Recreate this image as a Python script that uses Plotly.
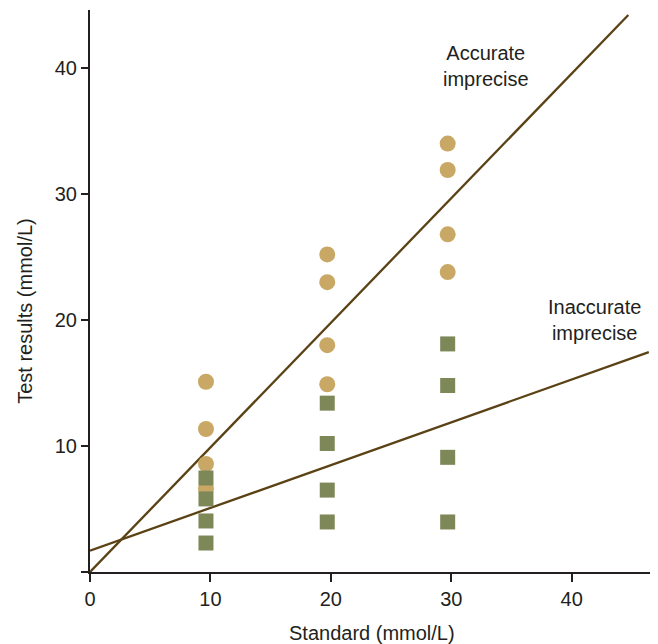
import plotly.graph_objects as go

# Data
circle_x = [9.63, 9.63, 9.63, 9.63, 19.7, 19.7, 19.7, 19.7, 29.7, 29.7, 29.7, 29.7]
circle_y = [15.1, 11.35, 8.57, 6.6, 25.2, 23.0, 18.0, 14.9, 34.0, 31.9, 26.8, 23.8]
square_x = [9.63, 9.63, 9.63, 9.63, 19.7, 19.7, 19.7, 19.7, 29.7, 29.7, 29.7, 29.7]
square_y = [7.46, 5.8, 4.05, 2.3, 13.4, 10.2, 6.5, 3.97, 18.1, 14.8, 9.1, 3.97]
accurate_x = [0, 44.7]
accurate_y = [0, 44.2]
inaccurate_x = [0, 46.4]
inaccurate_y = [1.69, 17.45]
x_ticks = [0, 10, 20, 30, 40]
y_ticks = [0, 10, 20, 30, 40]
y_ticklabels = ["", "10", "20", "30", "40"]

LINE = "#5A4215"
AX = "#231F20"
FONT = "Liberation Sans, Arial, Helvetica, sans-serif"

fig = go.Figure()
fig.add_trace(go.Scatter(x=accurate_x, y=accurate_y, mode="lines",
                         line=dict(color=LINE, width=2.3), hoverinfo="skip"))
fig.add_trace(go.Scatter(x=inaccurate_x, y=inaccurate_y, mode="lines",
                         line=dict(color=LINE, width=2.3), hoverinfo="skip"))
fig.add_trace(go.Scatter(x=circle_x, y=circle_y, mode="markers",
                         marker=dict(symbol="circle", size=16, color="#C8A864", line=dict(width=0))))
fig.add_trace(go.Scatter(x=square_x, y=square_y, mode="markers",
                         marker=dict(symbol="square", size=15, color="#7D8758", line=dict(width=0))))

fig.add_annotation(x=32.9, y=40.12, text="Accurate<br>imprecise", showarrow=False,
                   font=dict(size=20, color=AX, family=FONT), align="center")
fig.add_annotation(x=41.9, y=20.02, text="Inaccurate<br>imprecise", showarrow=False,
                   font=dict(size=20, color=AX, family=FONT), align="center")

# Axis titles
fig.add_annotation(x=0.504, y=-0.108, xref="paper", yref="paper", text="Standard (mmol/L)",
                   showarrow=False, yanchor="middle",
                   font=dict(size=20, color=AX, family=FONT))
fig.add_annotation(x=-0.115, y=0.464, xref="paper", yref="paper", text="Test results (mmol/L)",
                   showarrow=False, textangle=-90, xanchor="center", yanchor="middle",
                   font=dict(size=20, color=AX, family=FONT))

fig.update_layout(
    width=658, height=644,
    margin=dict(l=90, r=8, t=10, b=72),
    paper_bgcolor="white", plot_bgcolor="white",
    showlegend=False,
    font=dict(family=FONT, size=20, color=AX),
    xaxis=dict(range=[0, 46.5], tickvals=x_ticks, showgrid=False, zeroline=False,
               showline=True, linecolor=AX, linewidth=2, ticks="outside",
               ticklen=8, tickwidth=2, tickcolor=AX,
               tickfont=dict(size=20, color=AX)),
    yaxis=dict(range=[0, 44.6], tickvals=y_ticks, ticktext=y_ticklabels, showgrid=False,
               zeroline=False, showline=True, linecolor=AX, linewidth=2, ticks="outside",
               ticklen=7, tickwidth=2, tickcolor=AX,
               tickfont=dict(size=20, color=AX)),
)

fig.write_html("out.html")
